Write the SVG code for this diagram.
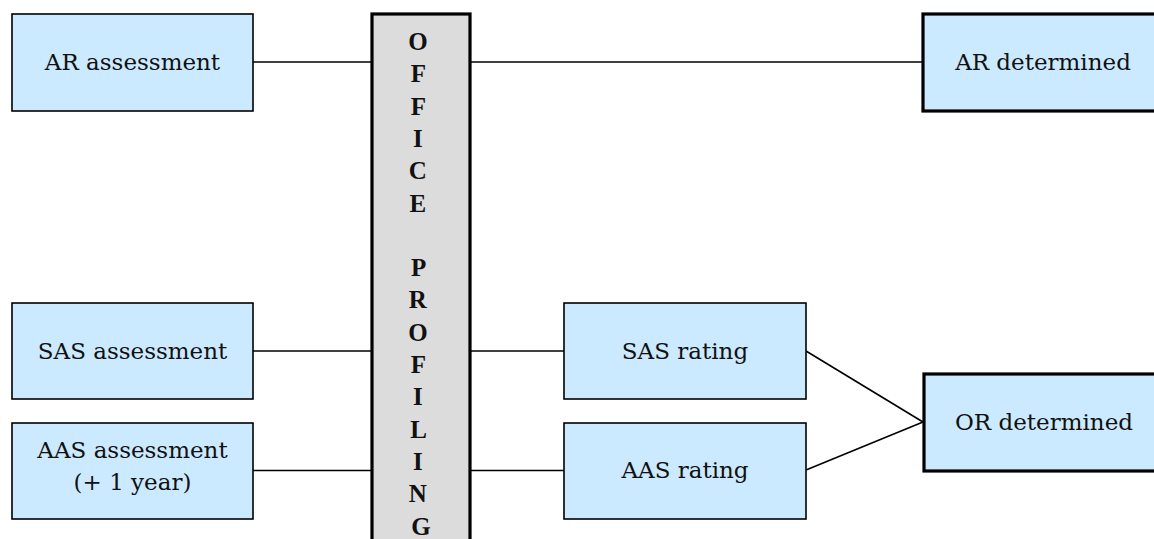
<svg xmlns="http://www.w3.org/2000/svg" width="1154" height="539" viewBox="0 0 1154 539">
<style>
.box{fill:#cceaff;stroke:#000;stroke-width:1.6}
.boxb{fill:#cceaff;stroke:#000;stroke-width:3.2}
.office{fill:#dcdcdc;stroke:#000;stroke-width:3.2}
.lbl{font-family:"DejaVu Serif","Liberation Serif",serif;font-size:23px;fill:#111;text-anchor:middle}
.ofl{font-family:"Liberation Serif","Times New Roman",serif;font-size:25px;font-weight:bold;fill:#111;text-anchor:middle}
.conn{stroke:#000;stroke-width:1.6;fill:none}
</style>
<rect width="1154" height="539" fill="#fff"/>
<g id="connectors">
<line class="conn" x1="253" y1="62" x2="372" y2="62"/>
<line class="conn" x1="470" y1="62" x2="923" y2="62"/>
<line class="conn" x1="253" y1="351" x2="372" y2="351"/>
<line class="conn" x1="253" y1="470.5" x2="372" y2="470.5"/>
<line class="conn" x1="470" y1="351" x2="564" y2="351"/>
<line class="conn" x1="470" y1="470.5" x2="564" y2="470.5"/>
<line class="conn" x1="806" y1="351" x2="923" y2="422"/>
<line class="conn" x1="806" y1="470" x2="923" y2="422"/>
</g>
<g id="ar-assessment">
<rect class="box" x="12" y="14" width="241" height="97"/>
<text class="lbl" x="132.5" y="70">AR assessment</text>
</g>
<g id="sas-assessment">
<rect class="box" x="12" y="303" width="241" height="96"/>
<text class="lbl" x="132.5" y="359">SAS assessment</text>
</g>
<g id="aas-assessment">
<rect class="box" x="12" y="423" width="241" height="96"/>
<text class="lbl" x="132.5" y="458">AAS assessment</text>
<text class="lbl" x="132.5" y="490">(+ 1 year)</text>
</g>
<g id="office-profiling">
<rect class="office" x="372" y="14" width="98" height="540"/>
<text class="ofl">
<tspan x="421" y="50">O</tspan>
<tspan x="421" y="82.3">F</tspan>
<tspan x="421" y="114.6">F</tspan>
<tspan x="421" y="146.9">I</tspan>
<tspan x="421" y="179.2">C</tspan>
<tspan x="421" y="211.5">E</tspan>
<tspan x="421" y="276.1">P</tspan>
<tspan x="421" y="308.4">R</tspan>
<tspan x="421" y="340.7">O</tspan>
<tspan x="421" y="373">F</tspan>
<tspan x="421" y="405.3">I</tspan>
<tspan x="421" y="437.6">L</tspan>
<tspan x="421" y="469.9">I</tspan>
<tspan x="421" y="502.2">N</tspan>
<tspan x="421" y="534.5">G</tspan>
</text>
</g>
<g id="sas-rating">
<rect class="box" x="564" y="303" width="242" height="96"/>
<text class="lbl" x="685" y="359">SAS rating</text>
</g>
<g id="aas-rating">
<rect class="box" x="564" y="423" width="242" height="96"/>
<text class="lbl" x="685" y="478">AAS rating</text>
</g>
<g id="ar-determined">
<rect class="boxb" x="923" y="14" width="241" height="97"/>
<text class="lbl" x="1043" y="70">AR determined</text>
</g>
<g id="or-determined">
<rect class="boxb" x="924" y="374" width="241" height="97"/>
<text class="lbl" x="1044" y="430">OR determined</text>
</g>
</svg>
